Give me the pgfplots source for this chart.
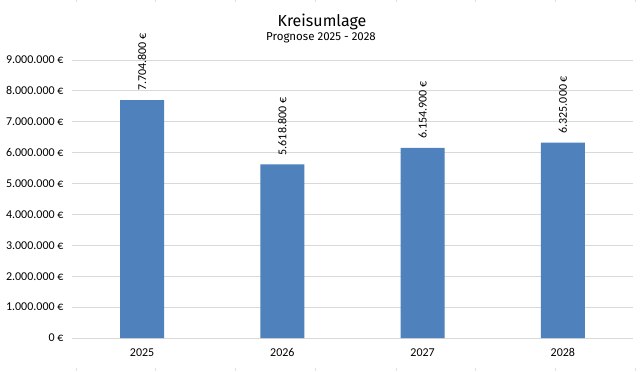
\documentclass[border=0pt]{standalone}
\usepackage{fontspec}
\setmainfont{Carlito}
\newfontfamily\titlefont{Fira Sans}
\usepackage{pgfplots}
\pgfplotsset{compat=1.18}
\definecolor{barblue}{HTML}{4F81BD}
\definecolor{gridgray}{HTML}{D9D9D9}
\definecolor{cellgray}{HTML}{E0E0E0}
\begin{document}
\begin{tikzpicture}[x=1bp,y=1bp]
\path[use as bounding box, fill=white] (0,0) rectangle (644,371);
% spreadsheet cell borders peeking out at top and bottom
\foreach \xx in {76,155,235,315,396,475,555,635} {
  \draw[cellgray, line width=0.75bp] (\xx,369) -- (\xx,371);
  \draw[cellgray, line width=0.75bp] (\xx,0) -- (\xx,3);
}
\begin{axis}[
  at={(72bp,33bp)}, anchor=south west,
  scale only axis, width=561bp, height=278bp,
  xmin=-0.5, xmax=3.5, ymin=0, ymax=9000000,
  ytick={0,1000000,2000000,3000000,4000000,5000000,6000000,7000000,8000000,9000000},
  xtick={0,1,2,3}, xticklabels={2025,2026,2027,2028},
  axis line style={draw=none},
  tick style={draw=none},
  ymajorgrids, major grid style={color=gridgray, line width=0.9bp},
  /pgf/number format/assume math mode=true,
  yticklabel={\pgfmathprintnumber[fixed,precision=0,1000 sep={.}]{\tick}~€},
  yticklabel style={font=\fontsize{12bp}{14bp}\selectfont, xshift=-5bp},
  xticklabel style={font=\fontsize{12bp}{14bp}\selectfont, yshift=-3bp},
  scaled y ticks=false,
  ybar, bar width=44bp,
  nodes near coords={\pgfmathprintnumber[fixed,precision=0,1000 sep={.}]{\pgfplotspointmeta}~€},
  every node near coord/.append style={rotate=90, anchor=west, inner sep=0pt, xshift=9bp, font=\fontsize{12bp}{14bp}\selectfont, text=black},
  clip=false,
]
\addplot[fill=barblue, draw=none] coordinates {(0,7704800) (1,5618800) (2,6154900) (3,6325000)};
\end{axis}
\node[font=\titlefont\fontsize{16bp}{19bp}\selectfont, anchor=base] at (322,345) {Kreisumlage};
\node[font=\titlefont\fontsize{11.5bp}{14bp}\selectfont, anchor=base] at (321,331) {Prognose 2025 - 2028};
\end{tikzpicture}
\end{document}
